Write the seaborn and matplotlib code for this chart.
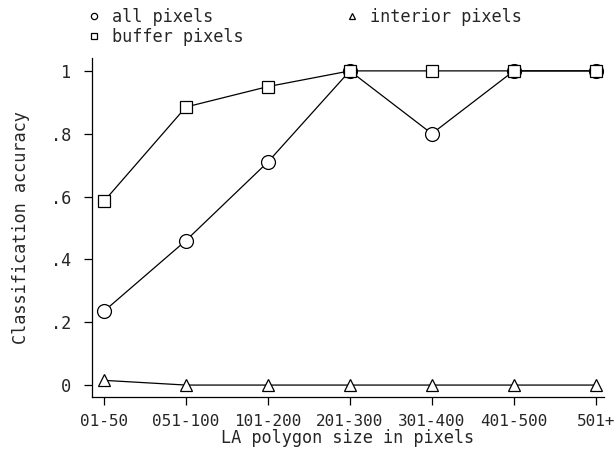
import matplotlib
matplotlib.use("Agg")
import matplotlib.pyplot as plt
import seaborn as sns
import pandas as pd
from matplotlib.lines import Line2D

categories = ["01-50", "051-100", "101-200", "201-300", "301-400", "401-500", "501+"]
all_pixels = [0.235, 0.46, 0.71, 1.0, 0.80, 1.0, 1.0]
buffer_pixels = [0.585, 0.885, 0.95, 1.0, 1.0, 1.0, 1.0]
interior_pixels = [0.015, 0.0, 0.0, 0.0, 0.0, 0.0, 0.0]
y_ticks = [0, 0.2, 0.4, 0.6, 0.8, 1.0]
y_tick_labels = ["0", ".2", ".4", ".6", ".8", "1"]

sns.set_style("white")
plt.rcParams["font.family"] = ["DejaVu Sans Mono"]
FS = 12.2

fig = plt.figure(figsize=(6.16, 4.49), dpi=100)
ax = fig.add_axes([92/616, 52/449, 512/616, 339/449])

pos = list(range(len(categories)))
series = [
    ("all pixels", all_pixels, "o", 10),
    ("buffer pixels", buffer_pixels, "s", 9),
    ("interior pixels", interior_pixels, "^", 9),
]
for name, vals, mk, ms in series:
    df = pd.DataFrame({"x": pos, "y": vals})
    sns.lineplot(data=df, x="x", y="y", ax=ax, color="black", linewidth=0.9,
                 marker=mk, markersize=ms, markerfacecolor="white",
                 markeredgecolor="black", markeredgewidth=0.9, zorder=3)

ax.set_xlim(-0.146, 6.1)
ax.set_ylim(-0.038, 1.041)
ax.set_xticks(pos)
ax.set_xticklabels(categories, fontsize=11.5)
ax.set_yticks(y_ticks)
ax.set_yticklabels(y_tick_labels, fontsize=FS)
ax.tick_params(axis="both", direction="out", length=6, width=0.9, color="black",
               bottom=True, left=True, pad=6)
ax.tick_params(axis="y", pad=9)
for s in ["top", "right"]:
    ax.spines[s].set_visible(False)
for s in ["left", "bottom"]:
    ax.spines[s].set_color("black")
    ax.spines[s].set_linewidth(0.9)

ax.set_xlabel("LA polygon size in pixels", fontsize=FS, labelpad=0.5)
ax.set_ylabel("Classification accuracy", fontsize=FS, labelpad=15)

handles = [Line2D([], [], linestyle="none", marker=mk, markersize=4.5,
                  markerfacecolor="white", markeredgecolor="black", markeredgewidth=0.9)
           for _, _, mk, _ in series]
labels = [s[0] for s in series]
leg = fig.legend(handles, labels, ncol=2, loc="upper left",
                 bbox_to_anchor=(87/616, 1 - 8/449), frameon=False, fontsize=FS,
                 handlelength=0.8, handletextpad=0.66, columnspacing=6.0,
                 labelspacing=0.1, borderaxespad=0, borderpad=0)

fig.savefig("out.png", dpi=100)
